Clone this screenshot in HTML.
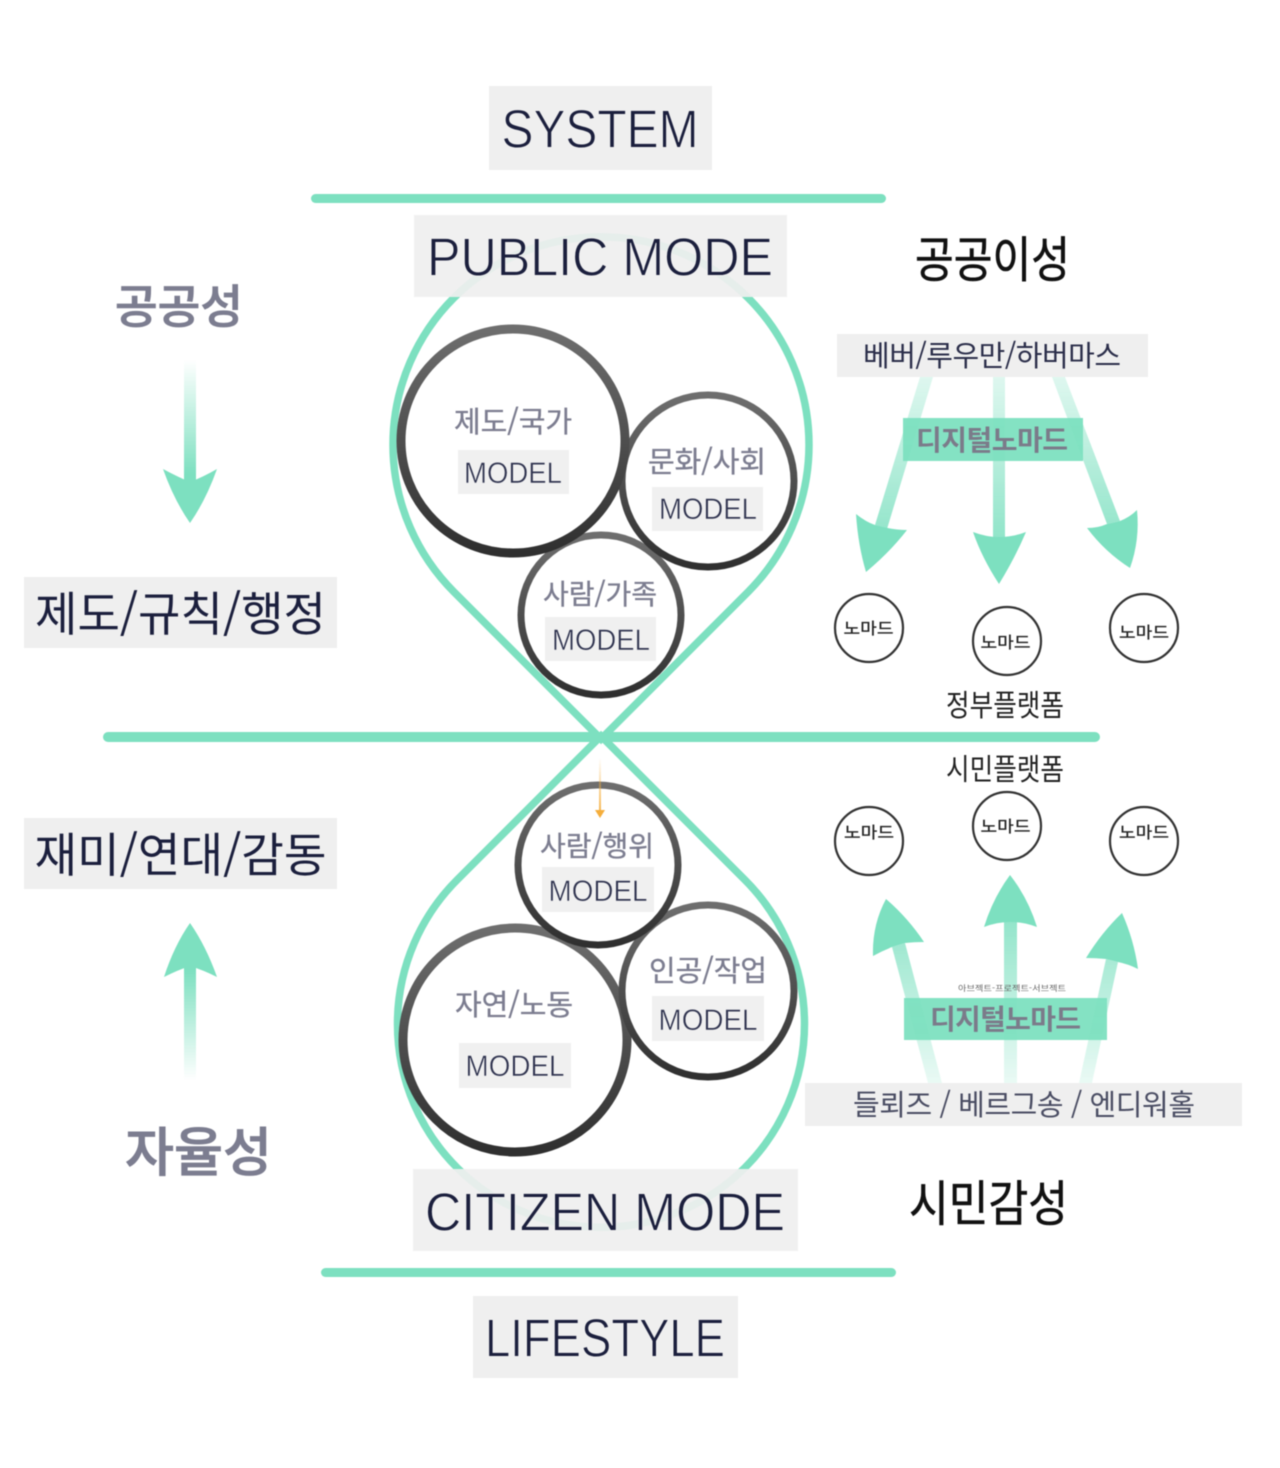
<!DOCTYPE html>
<html lang="ko">
<head>
<meta charset="utf-8">
<title>System and Lifestyle Diagram</title>
<style>
html,body{margin:0;padding:0;background:#fff;width:1280px;height:1468px;overflow:hidden}
svg{display:block;filter:blur(.5px)}
text{font-family:"Liberation Sans","Noto Sans CJK KR",sans-serif;text-anchor:middle}
.k{font-family:"Noto Sans CJK KR","NanumGothic",sans-serif}
.big{font-size:54px;fill:#1b1f3d;stroke:#efefef;stroke-width:.9px}
.m{font-size:30px;fill:#2f334f;stroke:#efefef;stroke-width:.5px}
.g{fill:#7c7d90;stroke:#7c7d90;stroke-width:.35px}
.n{font-size:16px;fill:#222;stroke:#222;stroke-width:.25px;font-family:"Noto Sans CJK KR",sans-serif}
.h{stroke:#111;stroke-width:.6px}
.box{fill:#efefef;fill-opacity:.92}
</style>
</head>
<body>
<svg width="1280" height="1468" viewBox="0 0 1280 1468" xmlns="http://www.w3.org/2000/svg">
<defs>
<linearGradient id="cA" x1="0" y1="0" x2="0" y2="1"><stop offset="0" stop-color="#6e6e6e"/><stop offset="1" stop-color="#2f2f2f"/></linearGradient>
<linearGradient id="dL" gradientUnits="userSpaceOnUse" x1="190" y1="360" x2="190" y2="523"><stop offset="0" stop-color="#7de0c0" stop-opacity="0"/><stop offset=".7" stop-color="#7de0c0"/></linearGradient>
<linearGradient id="uL" gradientUnits="userSpaceOnUse" x1="190" y1="1080" x2="190" y2="923"><stop offset="0" stop-color="#7de0c0" stop-opacity="0"/><stop offset=".7" stop-color="#7de0c0"/></linearGradient>
<linearGradient id="dR" gradientUnits="userSpaceOnUse" x1="0" y1="350" x2="0" y2="580"><stop offset="0" stop-color="#7de0c0" stop-opacity=".15"/><stop offset="1" stop-color="#7de0c0"/></linearGradient>
<linearGradient id="uR" gradientUnits="userSpaceOnUse" x1="0" y1="1085" x2="0" y2="880"><stop offset="0" stop-color="#7de0c0" stop-opacity=".15"/><stop offset="1" stop-color="#7de0c0"/></linearGradient>
<linearGradient id="or" gradientUnits="userSpaceOnUse" x1="600" y1="758" x2="600" y2="818"><stop offset="0" stop-color="#f5ae3c" stop-opacity="0"/><stop offset="1" stop-color="#f5ae3c"/></linearGradient>
</defs>

<!-- teardrops -->
<path d="M601,739 L454,592 A208,208 0 1 1 748,592 Z" fill="none" stroke="#7de0c0" stroke-width="7.5" stroke-linejoin="miter"/>
<path d="M601,736 L457,880 A203.5,203.5 0 1 0 745,880 Z" fill="none" stroke="#7de0c0" stroke-width="7.5" stroke-linejoin="miter"/>

<!-- horizontal lines -->
<rect x="311" y="194" width="575" height="9" rx="4.5" fill="#7de0c0"/>
<rect x="103" y="732" width="997" height="10" rx="5" fill="#7de0c0"/>
<rect x="321" y="1268" width="575" height="9" rx="4.5" fill="#7de0c0"/>

<!-- upper circles -->
<circle cx="601" cy="615" r="80" fill="#fff" stroke="url(#cA)" stroke-width="7"/>
<circle cx="708" cy="481" r="86" fill="#fff" stroke="url(#cA)" stroke-width="7"/>
<circle cx="513" cy="441" r="112" fill="#fff" stroke="url(#cA)" stroke-width="9"/>

<!-- lower circles -->
<circle cx="515" cy="1040" r="112" fill="#fff" stroke="url(#cA)" stroke-width="9"/>
<circle cx="708" cy="991" r="86" fill="#fff" stroke="url(#cA)" stroke-width="7"/>
<circle cx="598" cy="865" r="80" fill="#fff" stroke="url(#cA)" stroke-width="7"/>

<!-- orange arrow -->
<rect x="599" y="758" width="2" height="54" fill="url(#or)"/>
<path d="M595,810 L605,810 L600,818 Z" fill="#f5ae3c"/>

<!-- circle labels -->
<text class="k g" x="513" y="432" font-size="29">제도/국가</text>
<rect class="box" x="458" y="450" width="111" height="44"/>
<text class="m" x="513" y="483" textLength="98" lengthAdjust="spacingAndGlyphs">MODEL</text>

<text class="k g" x="707" y="472" font-size="29">문화/사회</text>
<rect class="box" x="652" y="487" width="111" height="44"/>
<text class="m" x="708" y="519" textLength="98" lengthAdjust="spacingAndGlyphs">MODEL</text>

<text class="k g" x="600" y="604" font-size="28">사람/가족</text>
<rect class="box" x="545" y="617" width="111" height="44"/>
<text class="m" x="601" y="650" textLength="98" lengthAdjust="spacingAndGlyphs">MODEL</text>

<text class="k g" x="597" y="856" font-size="28">사람/행위</text>
<rect class="box" x="542" y="867" width="112" height="45"/>
<text class="m" x="598" y="901" textLength="99" lengthAdjust="spacingAndGlyphs">MODEL</text>

<text class="k g" x="708" y="981" font-size="29">인공/작업</text>
<rect class="box" x="652" y="996" width="112" height="45"/>
<text class="m" x="708" y="1030" textLength="99" lengthAdjust="spacingAndGlyphs">MODEL</text>

<text class="k g" x="514" y="1015" font-size="29">자연/노동</text>
<rect class="box" x="459" y="1043" width="112" height="45"/>
<text class="m" x="515" y="1076" textLength="99" lengthAdjust="spacingAndGlyphs">MODEL</text>

<!-- title boxes -->
<rect x="489" y="86" width="223" height="84" fill="#efefef"/>
<text class="big" x="600" y="147.5" textLength="197" lengthAdjust="spacingAndGlyphs">SYSTEM</text>
<rect class="box" x="414" y="215" width="373" height="82"/>
<text class="big" x="600" y="275.5" textLength="346" lengthAdjust="spacingAndGlyphs">PUBLIC MODE</text>
<rect class="box" x="413" y="1169" width="385" height="82"/>
<text class="big" x="605" y="1230.5" textLength="360" lengthAdjust="spacingAndGlyphs">CITIZEN MODE</text>
<rect x="473" y="1296" width="265" height="82" fill="#efefef"/>
<text class="big" x="605" y="1356.5" textLength="240" lengthAdjust="spacingAndGlyphs">LIFESTYLE</text>

<!-- left column -->
<text class="k g" x="179" y="323" font-size="46" font-weight="500" textLength="128" lengthAdjust="spacingAndGlyphs" style="stroke-width:.8px">공공성</text>
<rect x="184" y="360" width="12" height="125" fill="url(#dL)"/>
<path d="M163,469 Q178,477 190,482 Q203,477 217,469 Q206,500 190,523 Q174,500 163,469 Z" fill="#7de0c0"/>
<rect x="24" y="577" width="313" height="71" fill="#efefef"/>
<text class="k" x="180.500" y="631" font-size="47" fill="#1b1f3d" textLength="291" lengthAdjust="spacingAndGlyphs">제도/규칙/행정</text>
<rect x="24" y="818" width="313" height="71" fill="#efefef"/>
<text class="k" x="180.500" y="872" font-size="47" fill="#1b1f3d" textLength="292" lengthAdjust="spacingAndGlyphs">재미/연대/감동</text>
<path d="M164,977 Q178,970 190,966 Q203,970 217,977 Q206,946 190,923 Q174,946 164,977 Z" fill="#7de0c0"/>
<rect x="184" y="965" width="12" height="115" fill="url(#uL)"/>
<text class="k g" x="198.500" y="1171" font-size="53" font-weight="500" textLength="147" lengthAdjust="spacingAndGlyphs" style="stroke-width:.8px">자율성</text>

<!-- upper right -->
<text class="k h" x="992.500" y="277" font-size="49" fill="#111" textLength="155" lengthAdjust="spacingAndGlyphs">공공이성</text>
<path d="M920,377 L933,377 L887,529 L875,525 Z" fill="url(#dR)"/>
<path d="M856,514 Q866,522 875,525 Q892,530 907,530 Q890,552 866,572 Q858,545 856,514 Z" fill="#7de0c0"/>
<rect x="993" y="377" width="12" height="160" fill="url(#dR)"/>
<path d="M973,532 Q986,537 999,537 Q1013,537 1026,532 Q1015,558 999,584 Q982,558 973,532 Z" fill="#7de0c0"/>
<path d="M1052,377 L1065,377 L1120,521 L1107,524 Z" fill="url(#dR)"/>
<path d="M1087,528 Q1098,528 1107,524 L1120,521 Q1130,517 1137,510 Q1140,540 1130,568 Q1105,552 1087,528 Z" fill="#7de0c0"/>
<rect x="837" y="334" width="311" height="43" fill="#efefef"/>
<text class="k" x="992" y="366" font-size="29" fill="#2b2e4a" textLength="258">베버/루우만/하버마스</text>
<rect x="903" y="418" width="180" height="43" fill="#7de0c0" fill-opacity=".95"/>
<text class="k" x="992" y="450" font-size="28" font-weight="700" fill="#7b7b8a" textLength="152">디지털노마드</text>

<g fill="#fff" stroke="#333" stroke-width="2.2">
<circle cx="869" cy="628" r="34"/>
<circle cx="1007" cy="641" r="34"/>
<circle cx="1144" cy="628" r="34"/>
<circle cx="869" cy="841" r="34"/>
<circle cx="1007" cy="826" r="34"/>
<circle cx="1144" cy="841" r="34"/>
</g>
<text class="n" x="868.500" y="634" textLength="50" lengthAdjust="spacingAndGlyphs">노마드</text>
<text class="n" x="1005.500" y="648" textLength="50" lengthAdjust="spacingAndGlyphs">노마드</text>
<text class="n" x="1144" y="638" textLength="50" lengthAdjust="spacingAndGlyphs">노마드</text>
<text class="n" x="869" y="838" textLength="50" lengthAdjust="spacingAndGlyphs">노마드</text>
<text class="n" x="1005.500" y="832" textLength="50" lengthAdjust="spacingAndGlyphs">노마드</text>
<text class="n" x="1144" y="838" textLength="50" lengthAdjust="spacingAndGlyphs">노마드</text>

<text class="k" x="1005" y="716" font-size="30" fill="#222" textLength="118" lengthAdjust="spacingAndGlyphs">정부플랫폼</text>
<text class="k" x="1005" y="780" font-size="30" fill="#222" textLength="118" lengthAdjust="spacingAndGlyphs">시민플랫폼</text>

<!-- lower right -->
<path d="M928,1083 L942,1083 L905,943 L892,947 Z" fill="url(#uR)"/>
<path d="M886,899 Q908,918 924,942 Q914,942 905,943 L892,947 Q882,951 873,956 Q872,925 886,899 Z" fill="#7de0c0"/>
<rect x="1004" y="920" width="13" height="163" fill="url(#uR)"/>
<path d="M1010,875 Q1028,898 1037,927 Q1024,922 1010,922 Q997,922 984,927 Q993,898 1010,875 Z" fill="#7de0c0"/>
<path d="M1079,1083 L1092,1083 L1118,962 L1106,959 Z" fill="url(#uR)"/>
<path d="M1122,913 Q1134,940 1138,969 Q1128,964 1118,962 L1106,959 Q1096,958 1086,958 Q1102,932 1122,913 Z" fill="#7de0c0"/>
<text class="k" x="1012" y="991" font-size="8" fill="#666" textLength="108" lengthAdjust="spacingAndGlyphs">아브젝트-프로젝트-서브젝트</text>
<rect x="904" y="998" width="203" height="42" fill="#7de0c0" fill-opacity=".95"/>
<text class="k" x="1005.500" y="1029" font-size="28" font-weight="700" fill="#7b7b8a" textLength="151">디지털노마드</text>
<rect x="805" y="1083" width="437" height="43" fill="#efefef"/>
<text class="k" x="1024" y="1115" font-size="29" fill="#4a4d63" textLength="342">들뢰즈 / 베르그송 / 엔디워홀</text>
<text class="k h" x="988.500" y="1221" font-size="49" fill="#111" textLength="159" lengthAdjust="spacingAndGlyphs">시민감성</text>
</svg>
</body>
</html>
